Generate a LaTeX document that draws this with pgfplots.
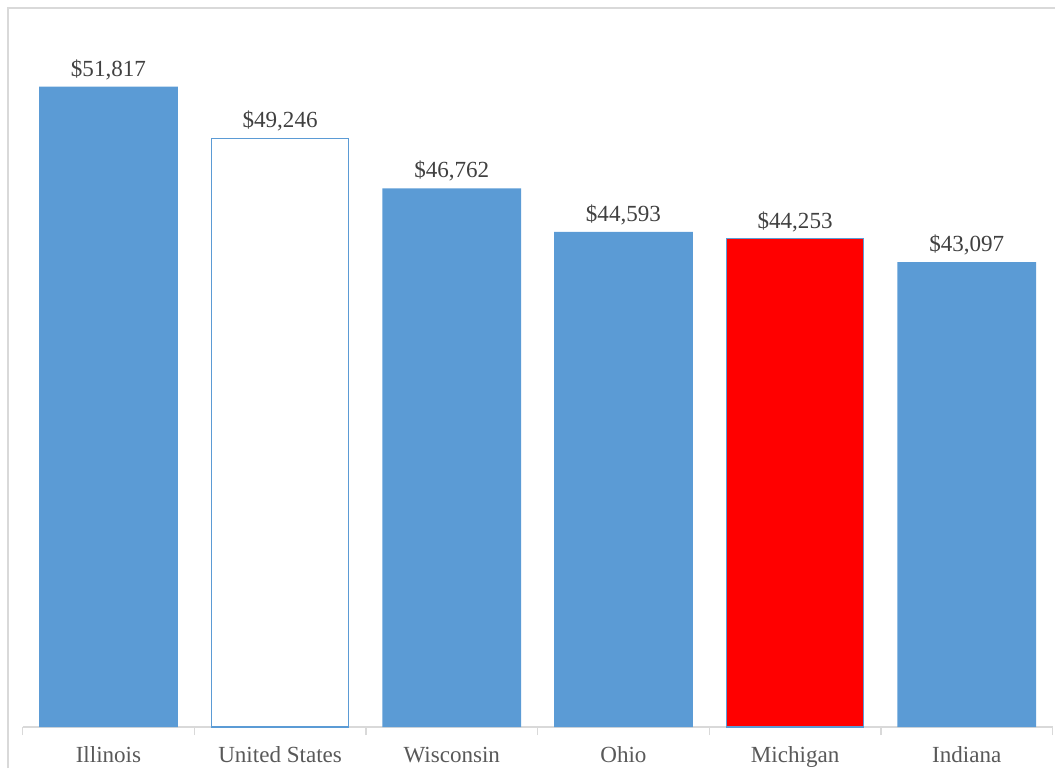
\documentclass[border=0pt]{standalone}
\usepackage{fontspec}
\setmainfont{Liberation Serif}
\usepackage{pgfplots}
\pgfplotsset{compat=1.18}
\definecolor{barblue}{HTML}{5B9BD5}
\definecolor{axgray}{HTML}{D9D9D9}
\definecolor{valtxt}{HTML}{404040}
\definecolor{cattxt}{HTML}{595959}
\begin{document}
\begin{tikzpicture}
\useasboundingbox (0,0) rectangle (791.25pt,576pt);
\draw[axgray, line width=0.9pt] (6pt,0pt) -- (6pt,570pt) -- (791.25pt,570pt);
\begin{axis}[
  at={(16.95pt,30.75pt)}, anchor=south west,
  scale only axis, width=772.5pt, height=528.4pt,
  xmin=-0.5, xmax=5.5, ymin=20000, ymax=55000,
  axis y line=none,
  axis x line*=bottom,
  x axis line style={draw=axgray, line width=0.9pt, -},
  xtick={0,1,2,3,4,5},
  xticklabels={Illinois, United States, Wisconsin, Ohio, Michigan, Indiana},
  major tick length=0pt,
  minor xtick={-0.5,0.5,1.5,2.5,3.5,4.5,5.5},
  minor tick length=6pt,
  tick align=outside,
  minor tick style={draw=axgray, line width=0.9pt},
  xticklabel style={anchor=base, yshift=-26.6pt, font=\fontsize{17.3pt}{20pt}\selectfont, text=cattxt},
  ybar, bar width=104pt,
  nodes near coords,
  point meta=explicit symbolic,
  every node near coord/.append style={anchor=base, yshift=7.9pt, font=\fontsize{17.3pt}{20pt}\selectfont, text=valtxt},
]
\addplot[bar shift=0pt, fill=barblue, draw=none] coordinates {
  (0,51817) [\$51,817]
  (2,46762) [\$46,762]
  (3,44593) [\$44,593]
  (5,43097) [\$43,097]
};
\addplot[bar shift=0pt, fill=white, draw=barblue, line width=1pt, bar width=103pt] coordinates {
  (1,49246) [\$49,246]
};
\addplot[bar shift=0pt, fill=red, draw=barblue, line width=0.8pt, bar width=103pt] coordinates {
  (4,44253) [\$44,253]
};
\end{axis}
\end{tikzpicture}
\end{document}
